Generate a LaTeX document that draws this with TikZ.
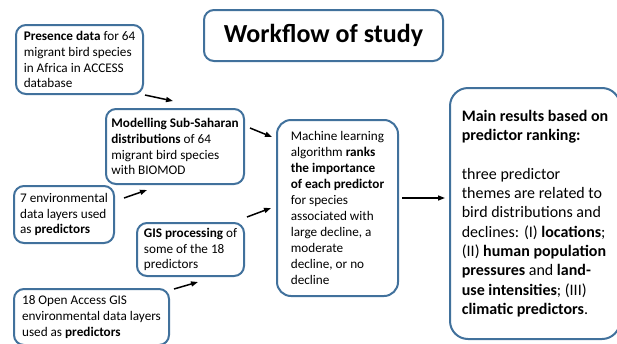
\documentclass[tikz,border=0pt]{standalone}
\usepackage{fontspec}
\setmainfont{Carlito}
\usepackage{xcolor}
\definecolor{cBox}{HTML}{41719C}
\usetikzlibrary{positioning,arrows.meta}
\tikzset{
  wf-box/.style={draw=cBox,line width=2pt,rounded corners=10pt,fill=white,
    anchor=north west,align=left,inner sep=0pt,
    font=\fontsize{13.2}{15.9}\selectfont},
  wf-big/.style={rounded corners=18pt,font=\fontsize{16}{19.3}\selectfont},
  wf-title/.style={font=\fontsize{26}{30}\selectfont\bfseries},
  wf-arrow/.style={-{Triangle[length=7pt,width=5pt]},line width=1.5pt},
}
\begin{document}
\begin{tikzpicture}[x=1pt,y=-1pt]
  \useasboundingbox (0,0) rectangle (617,343);
  \node[wf-box,wf-title,minimum width=239pt,minimum height=51pt] (title) at (203,9) {Workflow of study};
  \node[wf-box,minimum width=127pt,minimum height=69pt] (pres) at (15,24)
    {\textbf{Presence data} for 64\\migrant bird species\\in Africa in ACCESS\\database};
  \node[wf-box,minimum width=138pt,minimum height=75pt] (mod) at (105,108)
    {\textbf{Modelling Sub-Saharan}\\\textbf{distributions} of 64\\migrant bird species\\with BIOMOD};
  \node[wf-box,minimum width=100pt,minimum height=57pt] (env) at (13,185)
    {7 environmental\\data layers used\\as \textbf{predictors}};
  \node[wf-box,minimum width=107pt,minimum height=53pt] (gis) at (136,222)
    {\textbf{GIS processing} of\\some of the 18\\predictors};
  \node[wf-box,minimum width=155pt,minimum height=56pt] (open) at (13,288)
    {18 Open Access GIS\\environmental data layers\\used as \textbf{predictors}};
  \node[wf-box,rounded corners=14pt,minimum width=121pt,minimum height=176pt] (mach) at (276,119)
    {Machine learning\\algorithm \textbf{ranks}\\\textbf{the importance}\\\textbf{of each predictor}\\for species\\associated with\\large decline, a\\moderate\\decline, or no\\decline};
  \node[wf-box,wf-big,minimum width=170pt,minimum height=251pt] (main) at (449,87)
    {\textbf{Main results based on}\\\textbf{predictor ranking:}\\[19.3pt]three predictor\\themes are related to\\bird distributions and\\declines: (I) \textbf{locations};\\(II) \textbf{human population}\\\textbf{pressures} and \textbf{land-}\\\textbf{use intensities}; (III)\\\textbf{climatic predictors}.};
  % connectors
  \draw[wf-arrow] ([shift={(1,0)}]pres.south east) -- ([shift={(-2,-7)}]mod.north);
  \draw[wf-arrow] ([shift={(5,20)}]mod.north east) -- ([shift={(-4,18)}]mach.north west);
  \draw[wf-arrow] ([shift={(9,-16.5)}]env.east) -- ([shift={(42,5)}]mod.south west);
  \draw[wf-arrow] ([shift={(2,-5)}]gis.north east) -- ([shift={(-5,0)}]mach.west);
  \draw[wf-arrow] ([shift={(4,1)}]open.north east) -- ([shift={(7.5,5)}]gis.south);
  \draw[wf-arrow] ([shift={(3,-10)}]mach.east) -- ([shift={(-4,-15.5)}]main.west);
\end{tikzpicture}
\end{document}
